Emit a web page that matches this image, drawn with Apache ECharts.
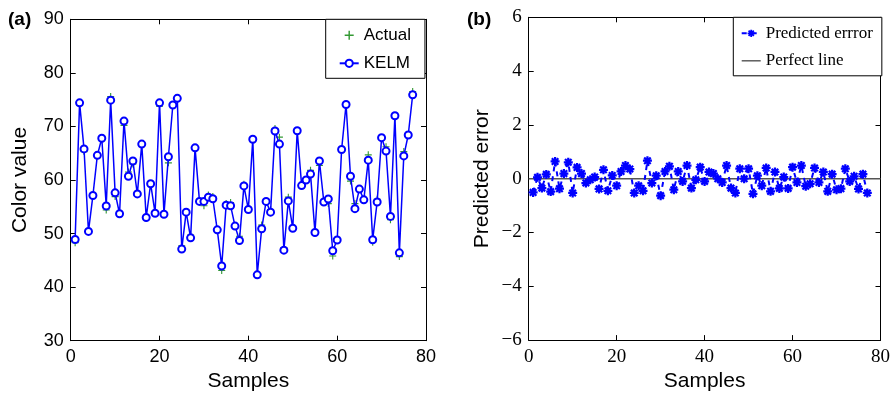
<!DOCTYPE html>
<html>
<head>
<meta charset="utf-8">
<script src="https://cdn.jsdelivr.net/npm/echarts@6/dist/echarts.min.js"></script>
<style>html,body{margin:0;padding:0;background:#fff}#c{width:893px;height:397px}</style>
</head>
<body>
<div id="c"></div>
<script>
// ---- data ----
const kelm = [48.9,74.4,65.8,50.4,57.1,64.6,67.8,55.15,74.9,57.6,
  53.7,71.0,60.7,63.55,57.4,66.7,53.0,59.3,53.8,74.4,
  53.6,64.35,74.0,75.25,47.1,54.0,49.2,66.0,56.0,56.0,
  56.8,56.5,50.7,43.95,55.3,55.2,51.4,48.7,58.9,54.5,
  67.6,42.3,50.9,56.0,54.0,69.15,66.7,46.9,56.1,51.0,
  69.2,58.95,60.0,61.1,50.2,63.55,55.9,56.45,46.8,48.8,
  65.7,74.1,60.7,54.65,58.3,56.3,63.7,48.85,55.9,67.9,
  65.4,53.2,72.0,46.4,64.5,68.4,75.9];
const actual = [48.3,73.9,65.3,50.4,57.1,64.6,67.8,54.4,75.6,56.9,
  53.7,70.2,61.5,63.0,57.4,66.7,52.8,59.3,54.1,73.8,
  53.6,63.2,74.0,75.25,47.7,54.0,49.7,66.0,56.0,55.2,
  57.2,56.9,50.5,43.1,55.6,55.8,51.4,49.5,59.2,54.5,
  67.6,42.3,51.6,55.8,54.5,69.6,68.0,47.4,56.8,51.0,
  69.2,59.2,60.0,61.8,50.2,62.7,55.9,55.6,45.8,48.8,
  65.7,74.1,59.8,55.6,58.3,56.3,64.7,48.4,56.4,67.9,
  66.2,52.6,71.6,45.7,65.3,68.4,76.5];
const predErr = [-0.51,0.05,-0.35,0.16,-0.48,0.64,-0.37,0.19,0.61,-0.53,
  0.42,0.19,-0.16,-0.04,0.06,-0.38,0.33,-0.45,0.12,-0.26,
  0.27,0.49,0.36,-0.53,-0.26,-0.45,0.67,-0.16,0.11,-0.63,
  0.27,0.46,-0.41,0.27,-0.10,0.49,-0.35,-0.04,0.43,-0.10,
  0.25,0.19,0.0,-0.14,0.49,-0.35,-0.53,0.37,0.0,0.37,
  -0.56,0.11,-0.26,0.40,-0.47,0.25,-0.36,0.06,-0.36,0.43,
  -0.14,0.49,-0.28,-0.19,0.40,-0.14,0.25,-0.47,0.17,-0.41,
  -0.37,0.37,-0.10,0.09,-0.38,0.17,-0.53];
const perfectX = [0, 80];
const perfectY = [0, 0];
const xTicksA = {min:0, max:80, interval:20};
const yTicksA = {min:30, max:90, interval:10};
const yTicksB = {min:-6, max:6, interval:2};

// ---- styling ----
const SANS = 'Liberation Sans';
const SERIF = 'Liberation Serif';
const plusPath = 'path://M4.2,0H5.8V4.2H10V5.8H5.8V10H4.2V5.8H0V4.2H4.2Z';
const starPath = 'path://M7.5,0H12.5V20H7.5Z M0,7.5H20V12.5H0Z M4.5,1L19,15.5L15.5,19L1,4.5Z M15.5,1L19,4.5L4.5,19L1,15.5Z M5,5H15V15H5Z';
const flatLine = 'path://M0,0H20V1.5H0Z';
const line = {show:true, onZero:false, lineStyle:{color:'#000', width:1}};
const tick = {show:true, inside:true, length:5, lineStyle:{color:'#000'}};
const minus = v => String(v).replace('-', '\u2212');

function boxAxes(grid, xt, yt, labelFont, labelSize) {
  return {
    x: [
      Object.assign({type:'value', gridIndex:grid, position:'bottom', axisLine:line, axisTick:tick,
        splitLine:{show:false},
        axisLabel:{color:'#000', fontFamily:labelFont, fontSize:labelSize, margin:7, formatter:minus},
        name:'Samples', nameLocation:'middle', nameGap:30,
        nameTextStyle:{color:'#000', fontFamily:SANS, fontSize:21}}, xt),
      Object.assign({type:'value', gridIndex:grid, position:'top', axisLine:line, axisTick:tick,
        splitLine:{show:false}, axisLabel:{show:false}}, xt)
    ],
    y: [
      Object.assign({type:'value', gridIndex:grid, position:'left', axisLine:line, axisTick:tick,
        splitLine:{show:false},
        axisLabel:{color:'#000', fontFamily:labelFont, fontSize:labelSize, margin:7, formatter:minus}}, yt),
      Object.assign({type:'value', gridIndex:grid, position:'right', axisLine:line, axisTick:tick,
        splitLine:{show:false}, axisLabel:{show:false}}, yt)
    ]
  };
}
const A = boxAxes(0, xTicksA, yTicksA, SANS, 18);
const B = boxAxes(1, xTicksA, yTicksB, SERIF, 19);
A.y[0].name = 'Color value';
B.y[0].name = 'Predicted error';
[A.y[0], B.y[0]].forEach(a => {
  a.nameLocation = 'middle';
  a.nameTextStyle = {color:'#000', fontFamily:SANS, fontSize:21};
});
A.y[0].nameGap = 40;
B.y[0].nameGap = 36;

const chart = echarts.init(document.getElementById('c'), null, {renderer:'canvas'});
chart.setOption({
  animation:false,
  backgroundColor:'#fff',
  title:[
    {text:'(a)', left:8, top:10, padding:0, textStyle:{fontFamily:SANS, fontWeight:'bold', fontSize:19, color:'#000'}},
    {text:'(b)', left:467, top:10, padding:0, textStyle:{fontFamily:SANS, fontWeight:'bold', fontSize:19, color:'#000'}}
  ],
  grid:[
    {left:70.7, top:19.3, width:355.3, height:321.4, containLabel:false},
    {left:528.7, top:17.3, width:355.6, height:323.4, containLabel:false}
  ],
  xAxis:[A.x[0], A.x[1], B.x[0], B.x[1]],
  yAxis:[A.y[0], A.y[1], B.y[0], B.y[1]],
  legend:[
    {orient:'vertical', left:325.7, top:19.3, padding:[7,14,6,13], itemGap:10,
     itemWidth:19, itemHeight:9, align:'left',
     borderColor:'#000', borderWidth:1, backgroundColor:'#fff',
     textStyle:{fontFamily:SANS, fontSize:17, color:'#000', lineHeight:18},
     data:[{name:'Actual', icon:plusPath}, {name:'KELM'}]},
    {orient:'vertical', left:733.3, top:17.3, padding:[7,9,6,7.4], itemGap:9.5,
     itemWidth:19, itemHeight:9, align:'left',
     borderColor:'#000', borderWidth:1, backgroundColor:'#fff',
     textStyle:{fontFamily:SERIF, fontSize:17, color:'#000', lineHeight:18},
     data:[{name:'Predicted errror'}, {name:'Perfect line', icon:flatLine}]}
  ],
  series:[
    {name:'Actual', type:'scatter', xAxisIndex:0, yAxisIndex:0,
     symbol:plusPath, symbolSize:7, itemStyle:{color:'#008000'},
     data: actual.map((v,i)=>[i+1, v]), z:2},
    {name:'KELM', type:'line', xAxisIndex:0, yAxisIndex:0,
     symbol:'emptyCircle', symbolSize:7, showAllSymbol:true,
     lineStyle:{color:'#0000ff', width:1.5},
     itemStyle:{color:'#0000ff', borderColor:'#0000ff', borderWidth:1.5},
     data: kelm.map((v,i)=>[i+1, v]), z:3},
    {name:'Predicted errror', type:'line', xAxisIndex:2, yAxisIndex:2,
     symbol:starPath, symbolSize:9, showAllSymbol:true,
     lineStyle:{color:'#0000ff', width:2, type:[5,5]},
     itemStyle:{color:'#0000ff'},
     data: predErr.map((v,i)=>[i+1, v]), z:3},
    {name:'Perfect line', type:'line', xAxisIndex:2, yAxisIndex:2,
     symbol:'none', lineStyle:{color:'#555', width:1.5},
     itemStyle:{color:'#555'},
     data: perfectX.map((x,i)=>[x, perfectY[i]]), z:2}
  ]
});
</script>
</body>
</html>
